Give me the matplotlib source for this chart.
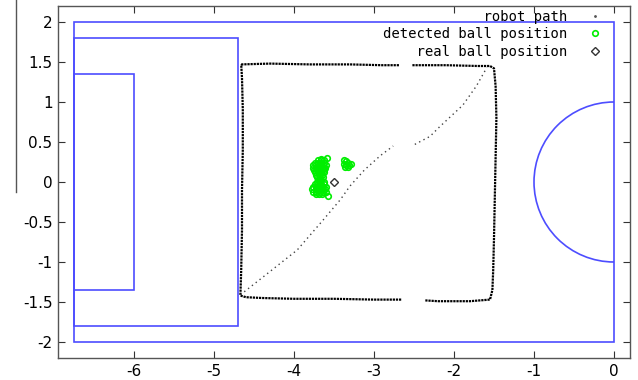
import numpy as np
import matplotlib
matplotlib.use("Agg")
import matplotlib.pyplot as plt
from matplotlib.patches import Arc, Rectangle
from matplotlib.lines import Line2D

plt.rcParams["axes.unicode_minus"] = False

# field geometry (metres)
field_x = [-6.75, 0.0]
field_y = [-2.0, 2.0]
penalty_x = [-6.75, -4.7]
penalty_y = [-1.8, 1.8]
goal_x = [-6.75, -6.0]
goal_y = [-1.35, 1.35]
circle_radius = 1.0

# robot path: the square loop (dense samples) ...
loop_x = [-4.66, -4.3, -3.8, -3.3, -2.9, -2.68, np.nan, -2.52, -2.1, -1.7, -1.55, -1.5,
          -1.48, -1.47, -1.48, -1.49, -1.5, -1.51, -1.52, -1.55,
          -1.8, -2.2, -2.36, np.nan, -2.66, -3.0, -3.5, -4.0, -4.4, -4.6, -4.67,
          -4.66, -4.65, -4.65, -4.64, -4.64, -4.65, -4.66]
loop_y = [1.47, 1.48, 1.47, 1.47, 1.46, 1.46, np.nan, 1.46, 1.46, 1.45, 1.45, 1.42,
          1.2, 0.8, 0.3, -0.2, -0.7, -1.1, -1.35, -1.47,
          -1.49, -1.49, -1.48, np.nan, -1.47, -1.47, -1.46, -1.46, -1.45, -1.44, -1.42,
          -1.1, -0.6, -0.1, 0.4, 0.9, 1.3, 1.47]
# ... and the fast diagonal run (sparse samples)
diag_x = [-4.67, -4.39, -3.96, -3.64, -3.42, -3.3, -3.12, -2.92, -2.76, np.nan,
          -2.49, -2.3, -2.18, -1.89, -1.72, -1.59]
diag_y = [-1.41, -1.19, -0.85, -0.48, -0.22, -0.05, 0.15, 0.33, 0.45, np.nan,
          0.47, 0.57, 0.69, 0.96, 1.2, 1.43]

# detected ball positions (main blob, then the small blob to the right)
det_x = [-3.70, -3.66, -3.62,
         -3.74, -3.70, -3.66, -3.62,
         -3.76, -3.72, -3.68, -3.64, -3.60,
         -3.76, -3.72, -3.68, -3.64, -3.61,
         -3.75, -3.71, -3.67, -3.63,
         -3.74, -3.70, -3.66, -3.62,
         -3.73, -3.69, -3.65,
         -3.71, -3.67, -3.64,
         -3.70, -3.66,
         -3.71, -3.67, -3.63,
         -3.74, -3.70, -3.66, -3.62,
         -3.76, -3.72, -3.68, -3.64, -3.60,
         -3.77, -3.73, -3.69, -3.65, -3.61,
         -3.76, -3.72, -3.68, -3.64, -3.60,
         -3.73, -3.69, -3.65,
         -3.66, -3.59, -3.58,
         -3.38, -3.35, -3.32, -3.38, -3.35, -3.31, -3.29, -3.36, -3.33]
det_y = [0.27, 0.27, 0.27,
         0.24, 0.24, 0.24, 0.24,
         0.21, 0.21, 0.21, 0.21, 0.21,
         0.18, 0.18, 0.18, 0.18, 0.18,
         0.15, 0.15, 0.15, 0.15,
         0.12, 0.12, 0.12, 0.12,
         0.09, 0.09, 0.09,
         0.06, 0.06, 0.06,
         0.03, 0.03,
         0.00, 0.00, 0.00,
         -0.03, -0.03, -0.03, -0.03,
         -0.06, -0.06, -0.06, -0.06, -0.06,
         -0.09, -0.09, -0.09, -0.09, -0.09,
         -0.12, -0.12, -0.12, -0.12, -0.12,
         -0.15, -0.15, -0.15,
         0.29, 0.30, -0.18,
         0.27, 0.26, 0.24, 0.22, 0.21, 0.21, 0.22, 0.19, 0.19]

# real ball position
real_x = [-3.5]
real_y = [0.0]

blue = "#4d4dff"
green = "#00ee00"

fig = plt.figure(figsize=(6.38, 3.8), dpi=100)
ax = fig.add_axes([58 / 638, 22 / 380, 572 / 638, 352 / 380])

# field lines
ax.add_patch(Rectangle((field_x[0], field_y[0]), field_x[1] - field_x[0], field_y[1] - field_y[0],
                       fill=False, ec=blue, lw=1.2))
ax.add_patch(Rectangle((penalty_x[0], penalty_y[0]), penalty_x[1] - penalty_x[0], penalty_y[1] - penalty_y[0],
                       fill=False, ec=blue, lw=1.2))
ax.add_patch(Rectangle((goal_x[0], goal_y[0]), goal_x[1] - goal_x[0], goal_y[1] - goal_y[0],
                       fill=False, ec=blue, lw=1.2))
ax.add_patch(Arc((0, 0), 2 * circle_radius, 2 * circle_radius, theta1=90, theta2=270, color=blue, lw=1.2))

# robot path
ax.plot(loop_x, loop_y, color="black", lw=1.6, ls=(0, (1, 0.4)))
ax.plot(diag_x, diag_y, color="#444444", lw=1.0, ls=(0, (1, 2.5)))

# balls
ax.plot(det_x, det_y, "o", ms=4, mfc="none", mec=green, mew=1.2)
ax.plot(real_x, real_y, "D", ms=4, mfc="none", mec="#333333", mew=1.0)

ax.set_xlim(-6.95, 0.2)
ax.set_ylim(-2.2, 2.2)
ax.set_xticks([-6, -5, -4, -3, -2, -1, 0])
ax.set_yticks([-2, -1.5, -1, -0.5, 0, 0.5, 1, 1.5, 2])
ax.set_yticklabels(["-2", "-1.5", "-1", "-0.5", "0", "0.5", "1", "1.5", "2"])
ax.tick_params(direction="in", top=True, right=True, length=5, width=0.8,
               labelsize=11, colors="#333333", labelcolor="black")
ax.tick_params(axis="x", pad=4)
ax.tick_params(axis="y", pad=4)
for s in ax.spines.values():
    s.set_color("#555555")
    s.set_linewidth(1.0)

# gnuplot-style key: labels right-aligned, symbol on the right
handles = [
    Line2D([], [], marker=".", ls="none", color="#555555", ms=2),
    Line2D([], [], marker="o", ls="none", mfc="none", mec=green, mew=1.2, ms=4),
    Line2D([], [], marker="D", ls="none", mfc="none", mec="#333333", mew=1.0, ms=4),
]
labels = ["robot path", "detected ball position", "real ball position"]
width = max(len(l) for l in labels)
labels = [l.rjust(width) for l in labels]
leg = ax.legend(handles, labels, loc="upper right", bbox_to_anchor=(0.975, 1.025),
                frameon=False, markerfirst=False, handlelength=1.2, handletextpad=1.4,
                labelspacing=0.25, prop={"family": "DejaVu Sans Mono", "size": 10})

# stray vertical rule at the left edge of the source image
fig.add_artist(Line2D([16 / 638, 16 / 638], [1.0, 1 - 192 / 380], transform=fig.transFigure,
                      color="#555555", lw=1.0))

fig.savefig("out.png", dpi=100)
